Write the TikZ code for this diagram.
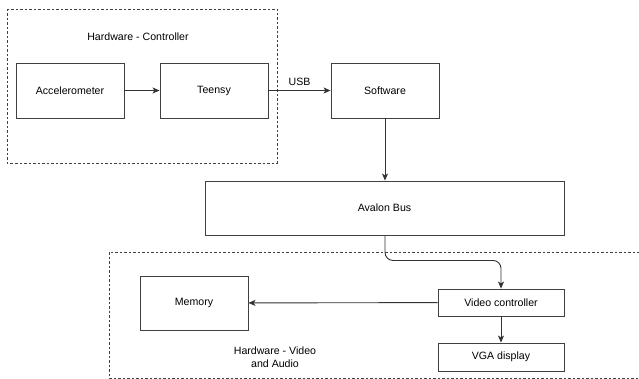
\documentclass[tikz,border=0pt]{standalone}
\usepackage{fontspec}
\setmainfont{Liberation Sans}
\usetikzlibrary{calc, arrows.meta}

\begin{document}
\begin{tikzpicture}[>={Stealth[length=7pt, width=6pt, inset=1.8pt]}, x=1pt, y=-1pt, font=\fontsize{10.6}{13}\selectfont,
  box/.style={draw=black!75, line width=0.9pt, fill=white, inner sep=0pt},
  group/.style={draw=black!75, line width=0.7pt, dash pattern=on 2.5pt off 2pt},
  link/.style={->, draw=black!80, line width=0.9pt}]
\useasboundingbox (0,0) rectangle (639,379);
% dashed groups
\draw[group] (7,9) rectangle (277,163);
\draw[group] (109,252) rectangle (660,378);
\node (hwctrl) at (138,37) {Hardware - Controller};
\node[align=center] (hwvideo) at (275,357) {Hardware - Video\\and Audio};
% blocks
\node[box, minimum width=108pt, minimum height=55pt] (accel) at (70,90.5) {Accelerometer};
\node[box, minimum width=108pt, minimum height=55pt] (teensy) at (214,90.5) {Teensy};
\node[box, minimum width=108pt, minimum height=55pt] (software) at (385,90.5) {Software};
\node[box, minimum width=359pt, minimum height=54pt] (avalon) at (384.5,208) {Avalon Bus};
\node[box, minimum width=108pt, minimum height=54pt] (memory) at (194,303) {Memory};
\node[box, minimum width=126pt, minimum height=27pt] (video) at (501,302.5) {Video controller};
\node[box, minimum width=126pt, minimum height=28pt] (vga) at (501,357) {VGA display};
% connectors
\draw[link] (accel) -- (teensy);
\draw[link] (teensy) -- node[above, yshift=1pt] (usb) {USB} (software);
\draw[link] (software) -- (software |- avalon.north);
\draw[link, rounded corners=8pt] (avalon.south -| software) -- ++(0,25) -| (video.north);
\draw[link] (video) -- (memory);
\draw[link] (video) -- (vga);
\end{tikzpicture}
\end{document}
